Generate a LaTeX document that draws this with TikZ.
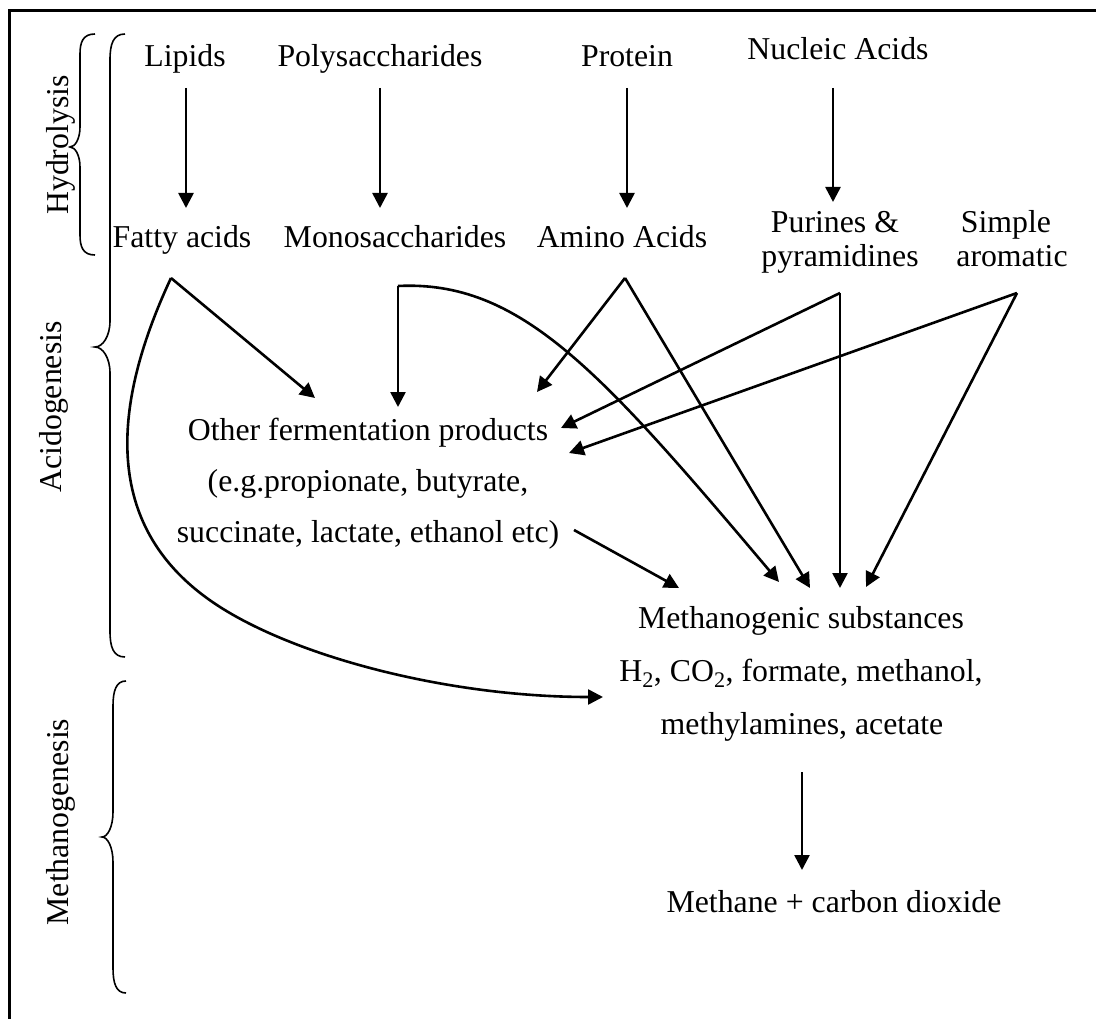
\documentclass[tikz,border=0pt]{standalone}
\usepackage{fontspec}
\setmainfont{Liberation Serif}
\usetikzlibrary{arrows.meta}
\newcommand{\mybracepath}[7]{%
 \draw[brc] (#1,#4) .. controls ({#2+3},#4) and (#2,{#4+0.4*#7}) .. (#2,{#4+#7})
   -- (#2,{#5-#7}) .. controls (#2,{#5-0.4*#7}) and ({#3+0.5*(#2-#3)},#5) .. (#3,#5)
   .. controls ({#3+0.5*(#2-#3)},#5) and (#2,{#5+0.4*#7}) .. (#2,{#5+#7})
   -- (#2,{#6-#7}) .. controls (#2,{#6-0.4*#7}) and ({#2+3},#6) .. (#1,#6);}
\begin{document}
\begin{tikzpicture}[x=1pt,y=-1pt,
  lbl/.style={font=\fontsize{31.8}{36}\selectfont, inner sep=0pt, anchor=base},
  arr/.style={line width=2.6pt, -{Triangle[length=15pt,width=15pt]}},
  brc/.style={line width=1.6pt},
  frm/.style={line width=3pt}]
\useasboundingbox (0,0) rectangle (1096,1019);
% frame (top and left visible)
\draw[frm] (9,1030) -- (9,11) -- (1105,11);

% phase labels
\node[lbl, rotate=90] (hyd) at (68,145) {Hydrolysis};
\node[lbl, rotate=90] (acido) at (61,407) {Acidogenesis};
\node[lbl, rotate=90] (methano) at (68,822) {Methanogenesis};

% braces
\mybracepath{95}{80}{70}{34}{147}{255}{20}
\mybracepath{125}{110}{95}{34}{347}{657}{26}
\mybracepath{126}{113}{102}{681}{837}{993}{25}

% text nodes
\node[lbl] (lipids) at (185,67) {Lipids};
\node[lbl] (poly) at (380,67) {Polysaccharides};
\node[lbl] (protein) at (627,67) {Protein};
\node[lbl] (nucleic) at (838,60) {Nucleic Acids};
\node[lbl] (fatty) at (182,248) {Fatty acids};
\node[lbl] (mono) at (395,248) {Monosaccharides};
\node[lbl] (amino) at (622,248) {Amino Acids};
\node[lbl] (purines) at (835,233) {Purines \&};
\node[lbl] (pyr) at (840,267) {pyramidines};
\node[lbl] (simple) at (1006,233) {Simple};
\node[lbl] (arom) at (1012,267) {aromatic};
\node[lbl] (other1) at (368,440) {Other fermentation products};
\node[lbl] (other2) at (368,491) {(e.g.propionate, butyrate,};
\node[lbl] (other3) at (368,542) {succinate, lactate, ethanol etc)};
\node[lbl] (meth1) at (801,628) {Methanogenic substances};
\node[lbl] (meth2) at (801,681) {H\textsubscript{2}, CO\textsubscript{2}, formate, methanol,};
\node[lbl] (meth3) at (802,734) {methylamines, acetate};
\node[lbl] (final) at (834,912) {Methane + carbon dioxide};

% connector coordinates
\coordinate (lipOut) at (186,88);  \coordinate (fatIn) at (186,208);
\coordinate (polOut) at (380,88);  \coordinate (monIn) at (380,208);
\coordinate (proOut) at (627,88);  \coordinate (amiIn) at (627,208);
\coordinate (nucOut) at (833,88);  \coordinate (purIn) at (833,202);
\coordinate (fa) at (171,278);
\coordinate (ma) at (398,286);
\coordinate (aa) at (625,278);
\coordinate (pa) at (840,293);
\coordinate (sa) at (1017,293);
\coordinate (othInF) at (315,398);
\coordinate (othInM) at (398,407);
\coordinate (othInA) at (537,392);
\coordinate (othInP) at (561,428);
\coordinate (othInS) at (569,453);
\coordinate (othOut) at (574,530);
\coordinate (metInO) at (679,588);
\coordinate (metInM) at (779,582);
\coordinate (metInA) at (810,588);
\coordinate (metInP) at (840,588);
\coordinate (metInS) at (866,587);
\coordinate (h2In) at (603,697);
\coordinate (metOut) at (802,772);
\coordinate (finIn) at (802,870);

% hydrolysis arrows
\draw[arr] (lipOut) -- (fatIn);
\draw[arr] (polOut) -- (monIn);
\draw[arr] (proOut) -- (amiIn);
\draw[arr] (nucOut) -- (purIn);

% acidogenesis arrows
\draw[arr] (fa) -- (othInF);
\draw[arr] (fa) .. controls (100,430) and (115,540) .. (220,607)
               .. controls (300,658) and (450,697) .. (h2In);
\draw[arr] (ma) -- (othInM);
\draw[arr] (ma) .. controls (520,280) and (600,370) .. (metInM);
\draw[arr] (aa) -- (othInA);
\draw[arr] (aa) -- (metInA);
\draw[arr] (pa) -- (othInP);
\draw[arr] (pa) -- (metInP);
\draw[arr] (sa) -- (othInS);
\draw[arr] (sa) -- (metInS);
\draw[arr] (othOut) -- (metInO);

% methanogenesis arrow
\draw[arr] (metOut) -- (finIn);
\end{tikzpicture}
\end{document}
